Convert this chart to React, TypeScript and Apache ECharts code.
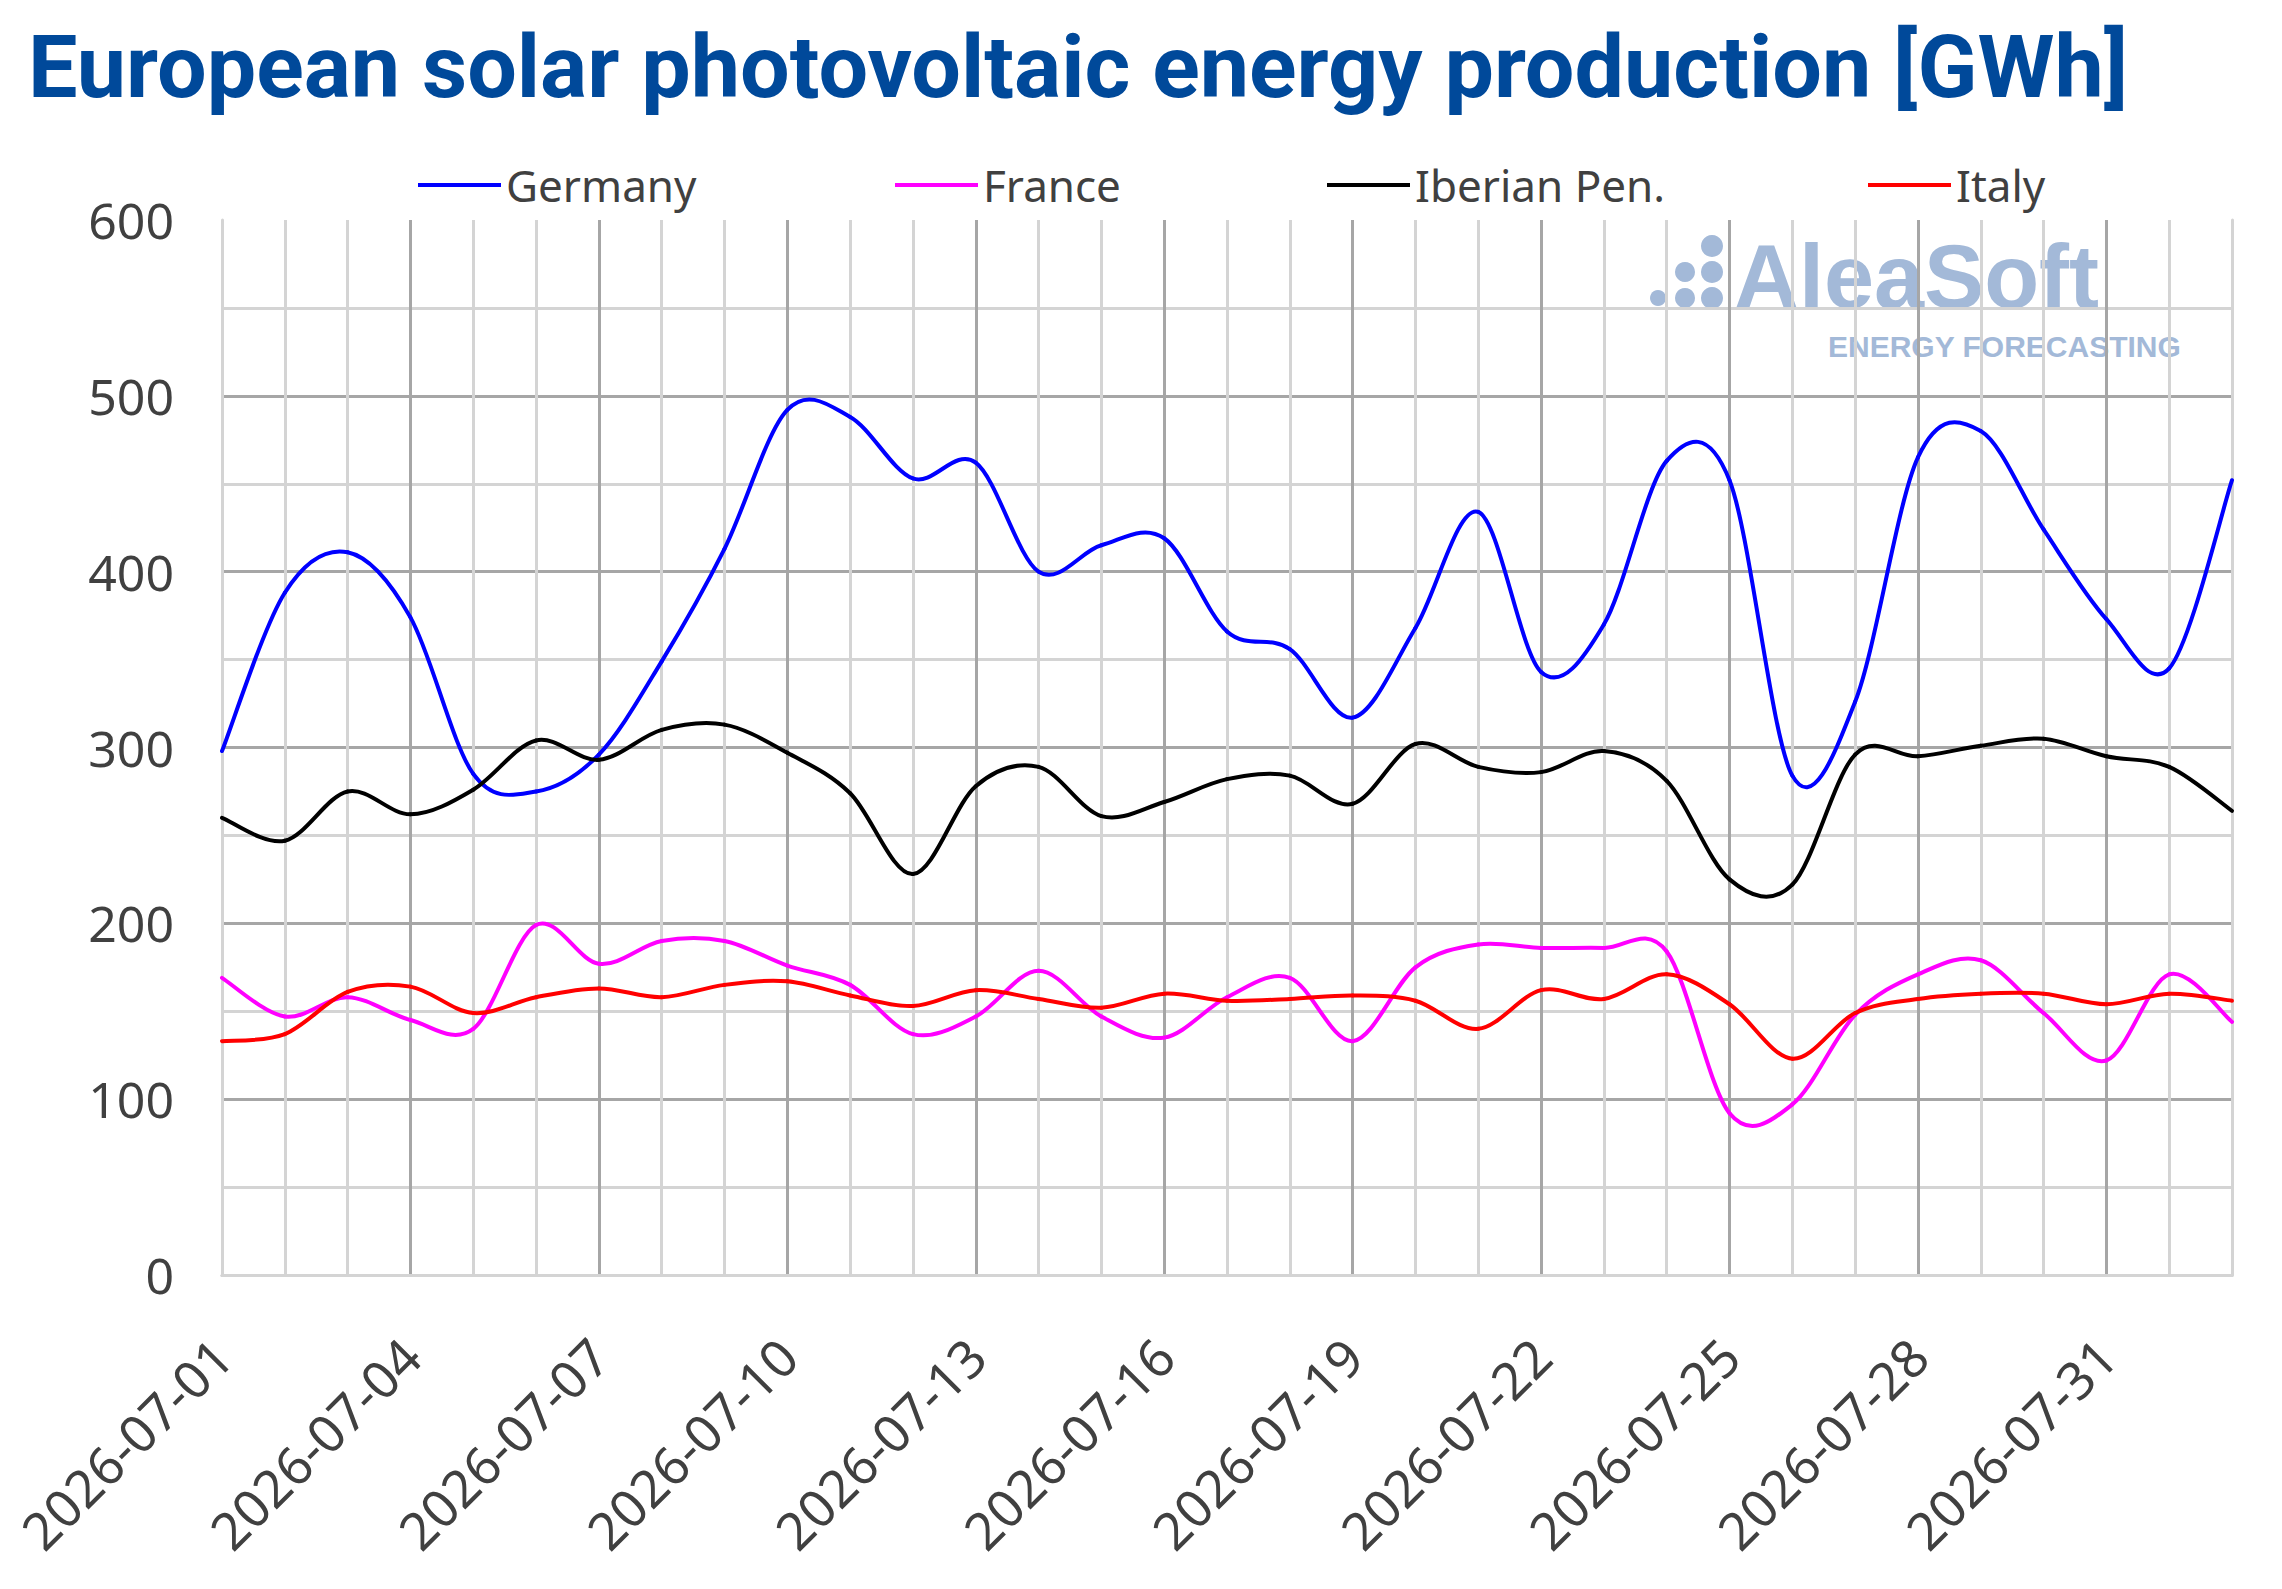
import React, { useEffect, useRef } from "react";
import * as echarts from "echarts";

// days shown on the category axis, 2026-07-01 .. 2026-08-02
const days: string[] = [
  "2026-07-01", "2026-07-02", "2026-07-03", "2026-07-04", "2026-07-05", "2026-07-06",
  "2026-07-07", "2026-07-08", "2026-07-09", "2026-07-10", "2026-07-11", "2026-07-12",
  "2026-07-13", "2026-07-14", "2026-07-15", "2026-07-16", "2026-07-17", "2026-07-18",
  "2026-07-19", "2026-07-20", "2026-07-21", "2026-07-22", "2026-07-23", "2026-07-24",
  "2026-07-25", "2026-07-26", "2026-07-27", "2026-07-28", "2026-07-29", "2026-07-30",
  "2026-07-31", "2026-08-01", "2026-08-02",
];

const germany: number[] = [
  298, 388, 411, 374, 285, 275, 296, 349, 413, 492, 488, 453, 462, 400, 415, 419, 366,
  356, 317, 368, 434, 343, 370, 463, 452, 284, 326, 465, 480, 424, 373, 345, 452,
];

const france: number[] = [
  169, 147, 158, 145, 140, 199, 177, 190, 190, 176, 165, 137, 147, 173, 147, 135, 158,
  169, 133, 175, 188, 186, 186, 184, 92, 97, 148, 171, 179, 149, 122, 171, 144,
];

const iberian: number[] = [
  260, 247, 275, 262, 276, 304, 293, 310, 313, 297, 274, 228, 278, 289, 261, 269, 282,
  284, 268, 302, 289, 286, 298, 281, 225, 222, 296, 295, 301, 305, 295, 289, 264,
];

const italy: number[] = [
  133, 137, 161, 164, 149, 158, 163, 158, 165, 167, 159, 153, 162, 157, 152, 160, 156,
  157, 159, 156, 140, 162, 157, 171, 154, 123, 149, 157, 160, 160, 154, 160, 156,
];

const seriesNames = ["Germany", "France", "Iberian Pen.", "Italy"];
const seriesColors = ["#0000ff", "#ff00ff", "#000000", "#ff0000"];
const legendLefts = [418, 895, 1327, 1868];

const LIGHT = "#d4d4d4";
const DARK = "#a6a6a6";
const LABEL = "#404040";
const MARK = "#a3b9d8";

// smoothed line like the spreadsheet one: one cubic segment per day,
// control points from the neighbouring days (Catmull-Rom)
const smoothSegment = (vals: number[], color: string) => (params: any, api: any) => {
  const i = params.dataIndex;
  if (i >= vals.length - 1) return null;
  const pt = (k: number) => {
    const j = Math.max(0, Math.min(vals.length - 1, k));
    return api.coord([j, vals[j]]);
  };
  const p0 = pt(i - 1);
  const p1 = pt(i);
  const p2 = pt(i + 1);
  const p3 = pt(i + 2);
  return {
    type: "bezierCurve",
    shape: {
      x1: p1[0],
      y1: p1[1],
      x2: p2[0],
      y2: p2[1],
      cpx1: p1[0] + (p2[0] - p0[0]) / 6,
      cpy1: p1[1] + (p2[1] - p0[1]) / 6,
      cpx2: p2[0] - (p3[0] - p1[0]) / 6,
      cpy2: p2[1] - (p3[1] - p1[1]) / 6,
    },
    style: { stroke: color, lineWidth: 4, fill: "none", lineCap: "round" },
  };
};

const SolarChart = () => {
  const chartRef = useRef<HTMLDivElement>(null);

  useEffect(() => {
    document.body.style.margin = "0";
    const chart = echarts.init(chartRef.current, undefined, { renderer: "svg" });
    const values = [germany, france, iberian, italy];

    chart.setOption({
      animation: false,
      backgroundColor: "#ffffff",
      textStyle: { fontFamily: "Noto Sans" },
      grid: { left: 222, right: 50, top: 220, bottom: 314 },
      legend: seriesNames.map((name, i) => ({
        data: [name],
        left: legendLefts[i],
        top: 160,
        padding: 0,
        icon: "rect",
        itemWidth: 83,
        itemHeight: 4,
        textStyle: { fontSize: 44, color: LABEL, lineHeight: 50, fontFamily: "Noto Sans" },
      })),
      xAxis: [
        {
          type: "category",
          data: days,
          boundaryGap: false,
          axisLine: { show: true, lineStyle: { color: LIGHT, width: 3 } },
          axisTick: { show: false },
          axisLabel: {
            interval: 2,
            rotate: 45,
            margin: 72,
            fontSize: 52,
            color: LABEL,
            fontFamily: "Noto Sans",
          },
          splitLine: {
            show: true,
            interval: 0,
            showMinLine: false,
            showMaxLine: false,
            lineStyle: { color: [LIGHT, LIGHT, DARK], width: 3 },
          },
        },
        {
          type: "category",
          data: days,
          boundaryGap: false,
          position: "top",
          z: 3,
          axisLine: { show: true, lineStyle: { color: LIGHT, width: 3 } },
          axisTick: { show: false },
          axisLabel: { show: false },
          splitLine: { show: false },
        },
      ],
      yAxis: [
        {
          type: "value",
          min: 0,
          max: 600,
          interval: 100,
          axisLine: { show: true, onZero: false, lineStyle: { color: LIGHT, width: 3 } },
          axisTick: { show: false },
          axisLabel: { margin: 48, fontSize: 50, color: LABEL, fontFamily: "Noto Sans" },
          splitLine: {
            show: true,
            showMinLine: false,
            showMaxLine: false,
            lineStyle: { color: DARK, width: 3 },
          },
          minorTick: { show: false, splitNumber: 2 },
          minorSplitLine: { show: true, lineStyle: { color: LIGHT, width: 3 } },
        },
        {
          type: "value",
          min: 0,
          max: 600,
          interval: 100,
          position: "right",
          z: 3,
          axisLine: { show: true, onZero: false, lineStyle: { color: LIGHT, width: 3 } },
          axisTick: { show: false },
          axisLabel: { show: false },
          splitLine: { show: false },
        },
      ],
      graphic: [
        {
          type: "text",
          left: 28,
          top: 22,
          style: {
            text: "European solar photovoltaic energy production [GWh]",
            font: 'bold 88px "Roboto"',
            fill: "#00499a",
          },
        },
        {
          type: "group",
          z: -1,
          children: [
            { type: "circle", shape: { cx: 1712, cy: 246, r: 11 }, style: { fill: MARK } },
            { type: "circle", shape: { cx: 1685, cy: 272, r: 10 }, style: { fill: MARK } },
            { type: "circle", shape: { cx: 1712, cy: 272, r: 11 }, style: { fill: MARK } },
            { type: "circle", shape: { cx: 1658, cy: 298, r: 8 }, style: { fill: MARK } },
            { type: "circle", shape: { cx: 1685, cy: 298, r: 10 }, style: { fill: MARK } },
            { type: "circle", shape: { cx: 1712, cy: 298, r: 11 }, style: { fill: MARK } },
            {
              type: "text",
              x: 1734,
              y: 277,
              style: {
                text: "AleaSoft",
                font: 'bold 90px "Liberation Sans"',
                fill: MARK,
                verticalAlign: "middle",
                lineHeight: 64,
              },
            },
            {
              type: "text",
              x: 1828,
              y: 346,
              style: {
                text: "ENERGY FORECASTING",
                font: 'bold 30px "Liberation Sans"',
                fill: MARK,
                verticalAlign: "middle",
                lineHeight: 22,
              },
            },
          ],
        },
      ],
      series: values.map((vals, i) => ({
        name: seriesNames[i],
        type: "custom",
        data: vals.map((v, k) => [k, v]),
        encode: { x: 0, y: 1 },
        z: 4,
        itemStyle: { color: seriesColors[i] },
        renderItem: smoothSegment(vals, seriesColors[i]),
      })),
    });

    return () => {
      chart.dispose();
    };
  }, []);

  return <div ref={chartRef} style={{ width: "2282px", height: "1589px" }}></div>;
};

export default function App() {
  return <SolarChart />;
}
